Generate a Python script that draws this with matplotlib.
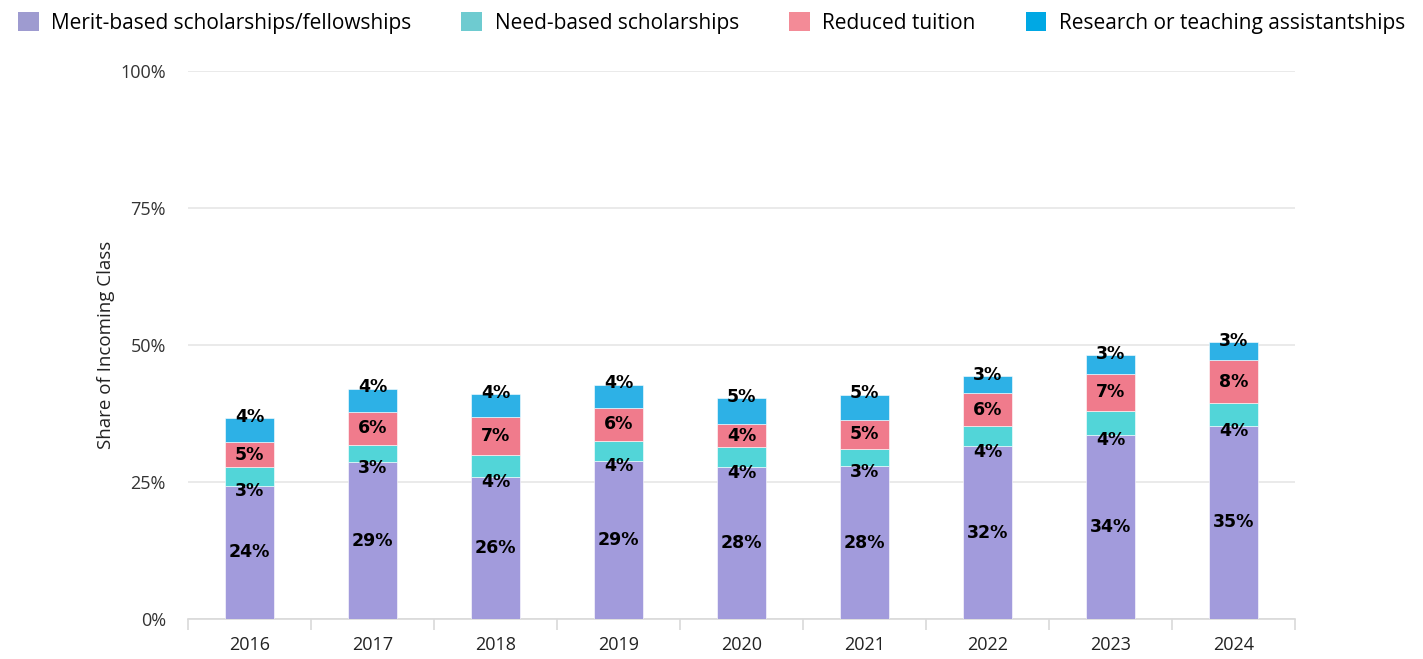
import matplotlib
matplotlib.use("Agg")
import matplotlib.pyplot as plt
from matplotlib.patches import Patch
import numpy as np

plt.rcParams['font.family'] = ['Open Sans', 'DejaVu Sans']

years = ["2016", "2017", "2018", "2019", "2020", "2021", "2022", "2023", "2024"]
merit = [24.3, 28.6, 26.0, 28.9, 27.7, 27.9, 31.5, 33.6, 35.3]
need = [3.4, 3.2, 4.0, 3.6, 3.6, 3.2, 3.7, 4.4, 4.1]
reduced = [4.6, 6.0, 6.8, 6.0, 4.2, 5.2, 6.0, 6.7, 7.8]
research = [4.3, 4.2, 4.2, 4.2, 4.8, 4.6, 3.1, 3.4, 3.3]
series_names = ["Merit-based scholarships/fellowships", "Need-based scholarships",
                "Reduced tuition", "Research or teaching assistantships"]
yticks = [0, 25, 50, 75, 100]
ytick_labels = ["0%", "25%", "50%", "75%", "100%"]

bar_colors = ["#a29bdc", "#52d5d8", "#f07b8c", "#2db1e6"]
legend_colors = ["#9e9bd0", "#6ecbd0", "#f38b97", "#00a8e4"]

fig = plt.figure(figsize=(14.23, 6.59), dpi=100)
ax = fig.add_axes([188/1423, 1-619/659, (1295-188)/1423, (619-71)/659])

x = np.arange(len(years))
w = 0.4
data = [merit, need, reduced, research]
bottom = np.zeros(len(years))
for vals, c in zip(data, bar_colors):
    ax.bar(x, vals, w, bottom=bottom, color=c, edgecolor="white", linewidth=0.4, zorder=3)
    bottom = bottom + np.array(vals)

m = np.array(merit); n = np.array(need); r = np.array(reduced); s = np.array(research)
lab_kw = dict(ha="center", va="center", fontsize=12.5, fontweight="bold", color="black",
              zorder=5, family=["DejaVu Sans"])
for i in range(len(years)):
    ax.text(x[i], m[i] / 2, f"{round(m[i])}%", **lab_kw)
    ax.text(x[i], m[i] - 1.0, f"{round(n[i])}%", **lab_kw)
    ax.text(x[i], m[i] + n[i] + r[i] / 2, f"{round(r[i])}%", **lab_kw)
    ax.text(x[i], m[i] + n[i] + r[i] + s[i] + 0.3, f"{round(s[i])}%", **lab_kw)

ax.set_xlim(-0.5, len(years) - 0.5)
ax.set_ylim(0, 100)
ax.set_yticks(yticks)
ax.set_yticklabels(ytick_labels)
ax.set_xticks(x)
ax.set_xticklabels(years)
ax.set_xticks(np.arange(-0.5, len(years), 1), minor=True)
ax.tick_params(axis="x", which="major", length=0, pad=12, labelsize=13, colors="#222222")
ax.tick_params(axis="x", which="minor", length=8, color="#d9d9d9", width=1.2)
ax.tick_params(axis="y", length=0, pad=16, labelsize=13, colors="#333333")
ax.grid(axis="y", color="#e6e6e6", linewidth=1.2, zorder=0)
for sp in ["top", "right", "left"]:
    ax.spines[sp].set_visible(False)
ax.spines["bottom"].set_color("#d9d9d9")
ax.spines["bottom"].set_linewidth(1.2)
ax.set_ylabel("Share of Incoming Class", fontsize=13.5, color="#222222", labelpad=4)

handles = [Patch(facecolor=c, edgecolor="none") for c in legend_colors]
fig.legend(handles, series_names, loc="upper center", bbox_to_anchor=(0.5, 1.01), ncol=4,
           frameon=False, fontsize=15, handlelength=1.0, handleheight=1.0,
           handletextpad=0.6, columnspacing=2.4)

fig.savefig("out.png", dpi=100)
